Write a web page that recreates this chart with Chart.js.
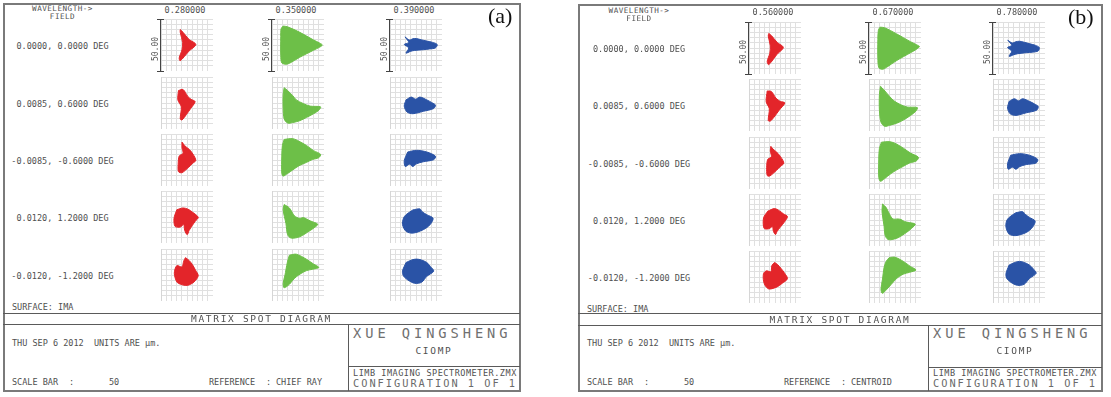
<!DOCTYPE html>
<html>
<head>
<meta charset="utf-8">
<script src="https://cdn.jsdelivr.net/npm/chart.js@4.4.1/dist/chart.umd.min.js"></script>
<style>
  body { margin: 0; background: #fff; width: 1111px; height: 397px; position: relative; overflow: hidden;
         font-family: "DejaVu Sans Mono", monospace; color: #505050; }
  .t { position: absolute; white-space: pre; line-height: 1; font-size: 8.5px; }
  .ln { position: absolute; background: #5a5a5a; }
  .cell { position: absolute; width: 52px; height: 52px; }
  .cell canvas { display: block; }
</style>
</head>
<body>
<script>
// wavelengths (micrometres) and field points
const wavelengthsA = ['0.280000', '0.350000', '0.390000'];
const wavelengthsB = ['0.560000', '0.670000', '0.780000'];
const fields = ['0.0000, 0.0000 DEG', '0.0085, 0.6000 DEG', '-0.0085, -0.6000 DEG', '0.0120, 1.2000 DEG', '-0.0120, -1.2000 DEG'];
const spotColors = ['#e3252a', '#6dbf48', '#2a53a6'];

// spot outlines, one per field, in micrometres (x right, y up)
const redA = [
  [[-6.5,14.8],[-3.8,12.2],[1.8,5.5],[8.5,0.5],[1.8,-6],[-6.5,-15.2],[-7.5,-12.5],[-4.8,-4.5],[-4.2,2.2],[-6.5,12.2]],
  [[-8.2,12],[-3.8,13],[0.8,6.3],[4,3.5],[7.8,1.3],[3.5,-5.3],[-0.5,-11],[-4.8,-16.3],[-6.5,-15.3],[-5.5,-3.7],[-8.8,3]],
  [[-4.8,17.2],[-2.2,13.8],[3.5,8.8],[8.5,-0.2],[5,-3.5],[1.8,-6.8],[-4.8,-12.2],[-8.2,-11.2],[-8.5,-4],[-7.5,3.8],[-3.8,6.5],[-4.8,11.5]],
  [[-9.8,7],[-3.8,8.7],[1,7.5],[5.2,4.7],[10.8,-0.3],[8,-4],[5.2,-8],[2,-13],[0.2,-17],[-2.2,-13],[-3.2,-7.3],[-6.5,-9.7],[-11.5,-9],[-12.5,-1.3]],
  [[-1.5,16.7],[2,14],[5.2,10],[8,5],[10.8,-0.7],[6.8,-6.7],[2,-9.5],[-1.5,-10],[-6,-9],[-9.8,-6.7],[-12.2,1.7],[-9.8,9],[-4.8,7.7],[-3.2,13.3]]
];
const greenA = [
  [[-14.3,18.2],[-10,17.5],[1.7,12.2],[15,4.8],[21,1.8],[23.4,0],[21,-2],[15,-5],[1.7,-11.8],[-8,-17.5],[-11.6,-18.5],[-15.6,-17.2],[-16.6,-10],[-16.6,8],[-16.3,15.5]],
  [[-13.3,14.7],[-10,12],[-5,7],[-1.6,3],[5,-0.5],[11.7,-3],[21.7,-3.7],[20,-7],[15,-10.3],[8,-14],[1.7,-17],[-5,-18.8],[-10,-19.3],[-13.3,-15.3],[-14.3,-5],[-14.3,8]],
  [[-13.3,19.8],[-5,20.5],[1,18],[8.4,13.8],[15,9],[21.7,5.5],[20,2.2],[14,0.5],[8.4,-2.2],[1,-5.5],[-5,-9.5],[-10,-13],[-14.3,-15.5],[-15.6,-12.8],[-15.6,3.8],[-15,14]],
  [[-13.3,12],[-8.3,8.7],[-3.3,1],[1.7,-1.3],[5,-0.5],[11.7,-3.7],[19,-7],[16,-10],[11.7,-13],[1.7,-19],[-6.6,-20.3],[-10,-17],[-11.6,-6.3],[-14.3,7]],
  [[-8.3,19],[-1.6,20],[8.4,15],[15,10.5],[20,7.3],[14,5.5],[8.4,4.3],[3,1.5],[-1.6,-1.7],[-5,-5],[-8.3,-9],[-13.3,-12.3],[-14.3,-8.3],[-12.5,0],[-11.6,5],[-10,13.3]]
];
const blueA = [
  [[-10.6,7.8],[-6.3,4.8],[-3,6],[0.4,6.2],[5,5],[10.4,3.8],[16,2.5],[20.4,0.5],[18.7,-2.8],[13,-3.8],[7,-4.5],[-1.3,-5.2],[-5,-6],[-9.6,-7.8],[-7,-2.8],[-11.3,0.5],[-7,2.5]],
  [[-9.6,3],[-4.6,5.7],[-0.3,3.7],[3.7,5.7],[10.4,3],[15,0.5],[18.7,-2],[17,-5.3],[7,-8],[-3,-10.3],[-8.6,-8.7],[-11.3,-3]],
  [[-8,7.7],[0.4,9.3],[10.4,7.7],[18.7,3.7],[17,0.3],[7,-1.7],[0.4,-3.7],[-3,-6.3],[-6.3,-4],[-10.3,-6.3],[-11.3,-0.7]],
  [[-3,6.8],[3.7,7.8],[6,5],[10.4,2.2],[16.4,-1.2],[13.7,-7.2],[7,-12.2],[-3,-15.5],[-9.6,-13.8],[-13,-7.2],[-12,-1],[-9.6,2.2]],
  [[-9.6,12],[-4,14.5],[0.4,15.3],[5,14.5],[10.4,12],[14,8],[17,3.7],[10.4,-1.3],[5.4,-7],[-1.3,-8],[-8,-4.7],[-12,-1],[-13,3.7]]
];
const redB = [
  [[-6,14],[-3.5,12],[2,5.5],[8,0.5],[2,-6],[-6,-16],[-7.5,-13],[-5,-5],[-4.5,2],[-6.5,11.5]],
  [[-7.5,13.5],[-3.5,13],[1,6.5],[5,3.5],[9.5,2],[4,-5],[0,-10.5],[-4.5,-15.5],[-6.5,-15],[-5.5,-3.5],[-8.5,3]],
  [[-4,16],[-2,13.5],[3.5,8.5],[8.5,0],[5,-3.5],[1.5,-7],[-5,-12.5],[-7.5,-12],[-8,-4],[-7,3.5],[-3.5,6],[-4.5,11.5]],
  [[-7,8.5],[-0.5,11],[4,9],[8,6],[12,3.3],[9,-2],[5,-7],[2,-11],[0.5,-14],[-1.5,-11],[-2.5,-6.5],[-6,-8.5],[-10.5,-8],[-11,2]],
  [[-0.5,14],[2.5,12],[6,8],[9,4],[12,-1.6],[7,-6],[2,-9.5],[-5.5,-11.6],[-9,-9],[-11,-4],[-11,3.4],[-8,6],[-4,5],[-3,11]]
];
const greenB = [
  [[-14.5,20],[-10,19.5],[1.7,13.5],[15,6],[21,3],[23.5,1.5],[21,-1],[15,-4.5],[1.7,-12],[-8,-18.5],[-12,-20.5],[-15.5,-19],[-16.5,-10],[-16.5,8],[-16,17]],
  [[-14,18],[-11,15],[-5,8],[-1,4],[5,0.5],[12,-2],[21.5,-2.5],[20,-6],[15,-10],[8,-14.5],[1.7,-17.5],[-5,-19.5],[-10,-20.5],[-13.5,-16.5],[-15,-5],[-15,10]],
  [[-13,20],[-5,20.5],[1,18.5],[8.4,14],[15,9.5],[22.5,5.5],[20.5,2],[14,0],[8.4,-3],[1,-7],[-5,-11],[-10,-15],[-14,-17.6],[-15.6,-14],[-15.6,3.8],[-15,14]],
  [[-12,15.4],[-8.5,12],[-5,5],[-2,1],[3,1],[6,0.4],[9,-1.5],[14,-2.5],[19.5,-4],[16,-8],[11,-12],[3,-17],[-4,-19],[-7,-18.6],[-9.5,-15],[-10.5,-6],[-12.5,8]],
  [[-5.5,18.7],[0,19],[8,15],[15,10],[20.2,6.7],[14,4.5],[7.8,2.7],[2,-1],[-3.8,-7.3],[-8,-12],[-12.2,-15.7],[-13.5,-12],[-12,-2],[-10.5,9.3],[-8.5,15]]
];
const blueB = [
  [[-10.8,7.5],[-6.5,4.8],[-3,6],[0.5,6.5],[5,5.5],[10.5,4],[16,2.5],[19.5,0.5],[18.5,-2.8],[13,-4],[7,-4.5],[-1.3,-5.5],[-5,-6.5],[-9.5,-8],[-7,-3],[-11,0.5],[-7,2.5]],
  [[-9.5,3.5],[-4.5,6],[-0.5,4],[3.5,6],[10,3.5],[15,1],[18.5,-1.5],[17,-5],[7,-7.5],[-3,-10],[-8.5,-8.5],[-11,-3]],
  [[-8,7.5],[0.5,9],[10,7.5],[18,3.5],[16.5,0],[7,-1.5],[0.5,-3.5],[-3,-6],[-6.3,-4],[-10.3,-6],[-11,-0.7]],
  [[-3,7],[3.5,8],[6,5.5],[10,2.5],[15.5,-1],[13,-7],[7,-12],[-3,-15],[-9.5,-13.5],[-12.5,-7],[-12,-1],[-9.5,2.5]],
  [[-9.5,11.5],[-4,14],[0.5,15],[5,14],[10,11.5],[14,7.5],[16.5,3.5],[10,-1.5],[5,-7],[-1.5,-8],[-8,-5],[-12,-1],[-12.5,3.5]]
];

// page layout of the two plots (pixels)
const panels = [
  { left: 3, top: 3, right: 520, bottom: 391, h1: 313, h2: 324, vdiv: 348, rline: 366,
    cols: [161, 272, 390], rows: [19, 77, 134, 191, 249], fieldX: 62.5, waveY: 10, headY: 8.8,
    surfY: 307, tag: '(a)', tagX: 488, tagY: 16, wl: wavelengthsA, spots: [redA, greenA, blueA], ref: 'CHIEF RAY' },
  { left: 578, top: 4, right: 1102, bottom: 391, h1: 313, h2: 325, vdiv: 928, rline: 367,
    cols: [749, 869, 993], rows: [22, 79, 137, 194, 251], fieldX: 639, waveY: 12, headY: 11.2,
    surfY: 309, tag: '(b)', tagX: 1068, tagY: 17, wl: wavelengthsB, spots: [redB, greenB, blueB], ref: 'CENTROID' }
];

function txt(x, y, s, opts) {
  opts = opts || {};
  const el = document.createElement('span');
  el.className = 't';
  el.textContent = s;
  el.style.left = x + 'px';
  el.style.top = y + 'px';
  if (opts.size) el.style.fontSize = opts.size + 'px';
  if (opts.ls) el.style.letterSpacing = opts.ls + 'px';
  if (opts.color) el.style.color = opts.color;
  if (opts.font) el.style.fontFamily = opts.font;
  el.style.transform = (opts.center ? 'translate(-50%,-50%)' : 'translate(0,-50%)') + (opts.rot ? ' rotate(' + opts.rot + 'deg)' : '');
  document.body.appendChild(el);
  return el;
}

function line(x, y, w, h, color) {
  const el = document.createElement('div');
  el.className = 'ln';
  el.style.left = x + 'px';
  el.style.top = y + 'px';
  el.style.width = w + 'px';
  el.style.height = h + 'px';
  if (color) el.style.background = color;
  document.body.appendChild(el);
}

function axis() {
  return {
    type: 'linear', min: -25, max: 25,
    ticks: { display: false, stepSize: 5 },
    grid: { color: '#e0e0e0', lineWidth: 1, drawTicks: false },
    border: { display: true, color: '#d6d6d6' }
  };
}

function spotCell(x, y, pts, color) {
  const wrap = document.createElement('div');
  wrap.className = 'cell';
  wrap.style.left = x + 'px';
  wrap.style.top = y + 'px';
  const cv = document.createElement('canvas');
  cv.width = 52;
  cv.height = 52;
  wrap.appendChild(cv);
  document.body.appendChild(wrap);
  const data = pts.map(p => ({ x: p[0], y: p[1] }));
  data.push(data[0]);
  new Chart(cv, {
    type: 'line',
    data: { datasets: [{ data, borderColor: color, backgroundColor: color, borderWidth: 1,
      pointRadius: 0, fill: 'shape', tension: 0.3 }] },
    options: {
      responsive: false, animation: false, events: [],
      layout: { padding: 0 },
      plugins: { legend: { display: false }, tooltip: { enabled: false } },
      scales: { x: axis(), y: axis() }
    }
  });
}

panels.forEach(p => {
  const w = p.right - p.left;
  // frame
  line(p.left, p.top, w, 2, '#7a7a7a');
  line(p.left, p.bottom - 1, w, 2, '#7a7a7a');
  line(p.left, p.top, 2, p.bottom - p.top, '#7a7a7a');
  line(p.right - 1, p.top, 2, p.bottom - p.top + 1, '#7a7a7a');
  line(p.left, p.h1, w, 1);
  line(p.left, p.h2, w, 1);
  line(p.vdiv, p.h2, 1, p.bottom - p.h2);
  line(p.vdiv, p.rline, p.right - p.vdiv, 1);

  // headings
  txt(p.fieldX, p.headY, 'WAVELENGTH->', { center: true, size: 7.6, ls: 0.5 });
  txt(p.fieldX, p.headY + 7.8, 'FIELD', { center: true, size: 7.6, ls: 0.5 });
  p.wl.forEach((s, c) => txt(p.cols[c] + 24, p.waveY, s, { center: true }));
  fields.forEach((s, r) => txt(p.fieldX, p.rows[r] + 26.5, s, { center: true }));

  // spots
  p.spots.forEach((series, c) => {
    series.forEach((pts, r) => spotCell(p.cols[c], p.rows[r], pts, spotColors[c]));
    // 50 micron scale bar on the first row
    const bx = p.cols[c] - 1, by = p.rows[0];
    line(bx, by, 1, 53, '#444');
    line(bx - 3, by, 7, 1, '#444');
    line(bx - 3, by + 52, 7, 1, '#444');
    txt(bx - 4, by + 30, '50.00', { center: true, rot: -90, size: 8 });
  });

  // footer
  txt(p.left + 9, p.surfY, 'SURFACE: IMA');
  txt((p.left + p.right) / 2, (p.h1 + p.h2) / 2 + 0.5, 'MATRIX SPOT DIAGRAM', { center: true, size: 9.5, ls: 1.7 });
  txt(p.left + 9, 343, 'THU SEP 6 2012  UNITS ARE \u00b5m.');
  txt(p.left + 9, 382, 'SCALE BAR');
  txt(p.left + 66, 382, ':');
  txt(p.left + 106, 382, '50');
  txt(p.left + 206, 382, 'REFERENCE');
  txt(p.left + 263, 382, ':');
  txt(p.left + 273, 382, p.ref);
  txt(p.vdiv + 5, 334, 'XUE QINGSHENG', { size: 13.7, ls: 3.95, color: '#707070' });
  txt((p.vdiv + p.right) / 2, 351, 'CIOMP', { center: true, size: 9.5, ls: 1.7 });
  txt(p.vdiv + 5, 373, 'LIMB IMAGING SPECTROMETER.ZMX', { size: 8.5, ls: 0.53 });
  txt(p.vdiv + 5, 383, 'CONFIGURATION 1 OF 1', { size: 10.3, ls: 2, color: '#6a6a6a' });

  txt(p.tagX, p.tagY, p.tag, { size: 22, color: '#111', font: '"Liberation Serif", "DejaVu Serif", serif' });
});
</script>
</body>
</html>
